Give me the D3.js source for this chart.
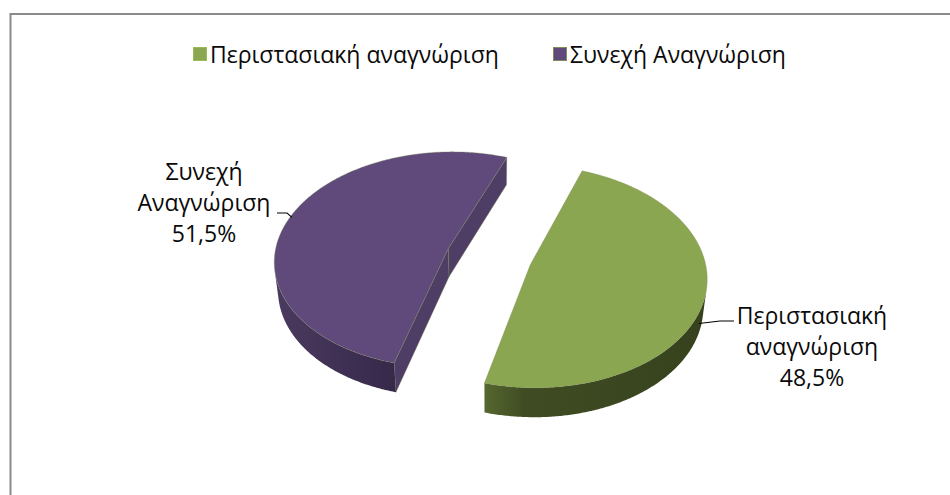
<!DOCTYPE html>
<html>
<head>
<meta charset="utf-8">
<script src="https://cdn.jsdelivr.net/npm/d3@7"></script>
<style>
  html, body { margin: 0; padding: 0; background: #fff; overflow: hidden; }
  text { font-family: "Open Sans", "Noto Sans", sans-serif; fill: #0a0a0a; }
</style>
</head>
<body>
<svg id="chart" width="950" height="495"></svg>
<script>
// Slice data, in legend order
const categories = ["Περιστασιακή αναγνώριση", "Συνεχή Αναγνώριση"];
const labelLines = [["Περιστασιακή", "αναγνώριση"], ["Συνεχή", "Αναγνώριση"]];
const shares = [48.5, 51.5];

// Colours per slice: top face, side gradient stops, cut faces
const topColors = ["#8BA650", "#604A7B"];
const sideStops = [
  [[0, "#56672F"], [0.18, "#3F4C23"], [1, "#35421D"]],
  [[0, "#4A3A5F"], [1, "#36294A"]]
];
const cutColors = ["#56672F", "#4E3D64"];
const keyStroke = ["#9BBB59", "#7F8C5A"];

const svg = d3.select("#chart");
const pct = d3.formatLocale({ decimal: ",", thousands: ".", grouping: [3], currency: ["", "€"] }).format(".1%");

// Chart frame
svg.append("rect")
  .attr("x", 10.5).attr("y", 14)
  .attr("width", 960).attr("height", 520)
  .attr("fill", "none").attr("stroke", "#8a8a8a").attr("stroke-width", 2);

// Tilted pie with perspective
const tilt = 38.5 * Math.PI / 180;
const camDist = 1296;
const R = 174, depth = 37, explode = 43;
const cx = 489, cy = 256.5;
const cosT = Math.cos(tilt), sinT = Math.sin(tilt);
const cam = [0, camDist * sinT, camDist * cosT];

function project(x, y, z) {
  const yr = y * cosT - z * sinT;
  const zr = z * cosT + y * sinT;
  const k = camDist / (camDist - zr);
  return [cx + x * k, cy - yr * k];
}

const rotation = 20.4 * Math.PI / 180;
const pie = d3.pie().sort(null).value(d => d)
  .startAngle(rotation).endAngle(rotation + 2 * Math.PI);
const arcs = pie(shares).map((a, i) => {
  const mid = (a.startAngle + a.endAngle) / 2;
  return { ...a, i, mid, ox: explode * Math.sin(mid), oz: -explode * Math.cos(mid) };
});

const line = d3.line();
const defs = svg.append("defs");
const pieG = svg.append("g");

function rim(s, theta, y, r = R) {
  return project(s.ox + r * Math.sin(theta), y, s.oz - r * Math.cos(theta));
}
function facesCamera(px, pz, nx, nz) {
  return nx * (cam[0] - px) + nz * (cam[2] - pz) > 0;
}

// back slices first
const order = arcs.slice().sort((a, b) => a.oz - b.oz);

order.forEach(s => {
  const g = pieG.append("g");
  const step = Math.PI / 360;
  const n = Math.max(2, Math.ceil((s.endAngle - s.startAngle) / step));
  const thetas = d3.range(n + 1).map(j => s.startAngle + (s.endAngle - s.startAngle) * j / n);

  // cut faces running from the apex out to each edge
  [[s.startAngle, -1], [s.endAngle, 1]].forEach(([a, sgn]) => {
    const nx = sgn * Math.cos(a), nz = sgn * Math.sin(a);
    if (!facesCamera(s.ox, s.oz, nx, nz)) return;
    const pts = [
      project(s.ox, 0, s.oz), rim(s, a, 0),
      rim(s, a, -depth), project(s.ox, -depth, s.oz)
    ];
    g.append("path").attr("d", line(pts) + "Z")
      .attr("fill", cutColors[s.i])
      .attr("stroke", "#7d8a58").attr("stroke-width", 0.5).attr("stroke-opacity", 0.7);
  });

  // outer wall, only the stretches turned toward the viewer
  const runs = [];
  let cur = null;
  for (let j = 0; j < n; j++) {
    const t = (thetas[j] + thetas[j + 1]) / 2;
    const vis = facesCamera(s.ox + R * Math.sin(t), s.oz - R * Math.cos(t), Math.sin(t), -Math.cos(t));
    if (vis) {
      if (!cur) { cur = [j]; runs.push(cur); }
      cur.push(j + 1);
    } else cur = null;
  }
  runs.forEach((run, ri) => {
    const topPts = run.map(j => rim(s, thetas[j], 0));
    const botPts = run.map(j => rim(s, thetas[j], -depth)).reverse();
    const xs = topPts.map(p => p[0]);
    const gid = `wall-${s.i}-${ri}`;
    const grad = defs.append("linearGradient").attr("id", gid)
      .attr("gradientUnits", "userSpaceOnUse")
      .attr("x1", d3.min(xs)).attr("x2", d3.max(xs)).attr("y1", 0).attr("y2", 0);
    sideStops[s.i].forEach(([o, c]) => grad.append("stop").attr("offset", o).attr("stop-color", c));
    g.append("path").attr("d", line(topPts.concat(botPts)) + "Z")
      .attr("fill", `url(#${gid})`);
  });

  // top face
  const topFace = [project(s.ox, 0, s.oz)].concat(thetas.map(t => rim(s, t, 0)));
  g.append("path").attr("d", line(topFace) + "Z")
    .attr("fill", topColors[s.i])
    .attr("stroke", "#7d8a58").attr("stroke-width", 0.6).attr("stroke-opacity", 0.6);
});

// Data labels with leader lines
const fontSize = 23, lineGap = 31;
const labelLayout = [
  { x: 812, y: 324, lead: [[734, 321], [720, 321]], anchorY: -depth * 0.85 },
  { x: 204, y: 180, lead: [[277, 213], [287, 213]], anchorY: 0 }
];
arcs.forEach(s => {
  const L = labelLayout[s.i];
  const anchor = rim(s, s.mid, L.anchorY, R - 2);
  svg.append("path")
    .attr("d", line(L.lead.concat([anchor])))
    .attr("fill", "none").attr("stroke", "#000").attr("stroke-width", 1.1);
  const t = svg.append("text").attr("text-anchor", "middle").attr("font-size", fontSize);
  labelLines[s.i].concat([pct(s.data / 100)]).forEach((str, k) => {
    t.append("tspan").attr("x", L.x).attr("y", L.y + k * lineGap).text(str);
  });
});

// Legend
const legendX = [193, 553];
categories.forEach((c, i) => {
  const lg = svg.append("g").attr("transform", `translate(${legendX[i]},47)`);
  lg.append("rect").attr("x", 0.5).attr("y", 0.5).attr("width", 13).attr("height", 13)
    .attr("fill", topColors[i]).attr("stroke", keyStroke[i]).attr("stroke-width", 1);
  lg.append("text").attr("x", 17).attr("y", 16).attr("font-size", fontSize).text(c);
});
</script>
</body>
</html>
